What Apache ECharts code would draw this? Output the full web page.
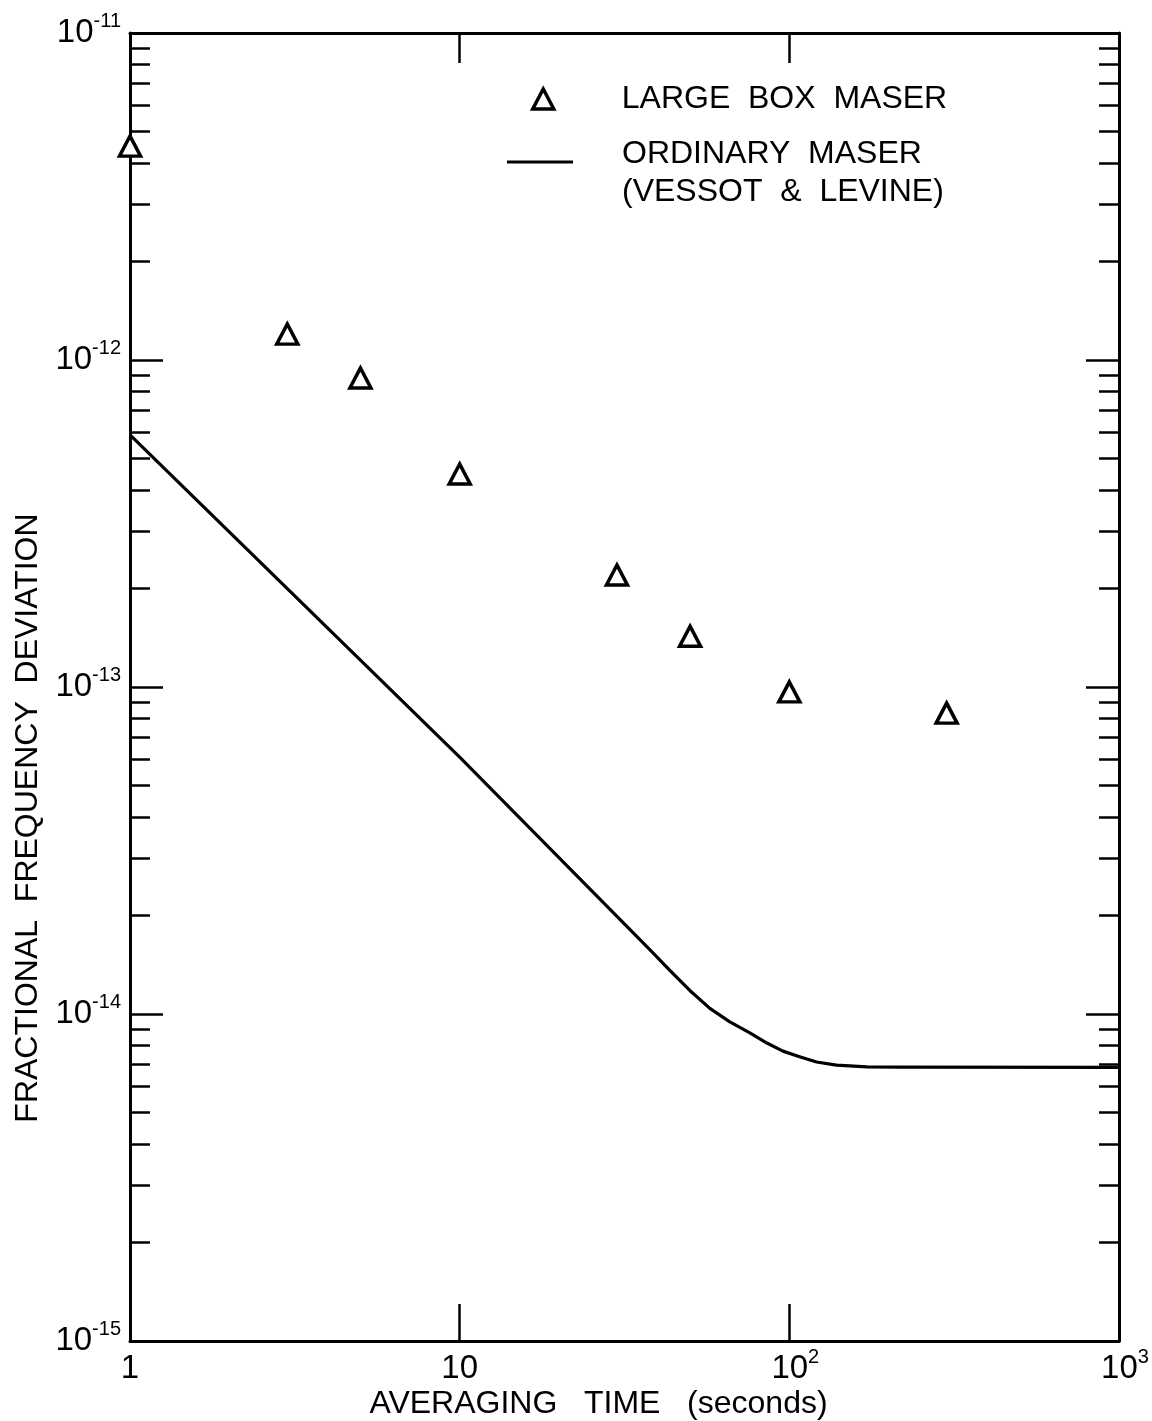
<!DOCTYPE html>
<html>
<head>
<meta charset="utf-8">
<script src="https://cdn.jsdelivr.net/npm/echarts@6/dist/echarts.min.js"></script>
<style>
  html, body { margin: 0; padding: 0; background: #fff; }
  #chart { width: 1152px; height: 1421px; }
</style>
</head>
<body>
<div id="chart"></div>
<script>
// ---- data ----
const boxTau = [1, 3, 5, 10, 30, 50, 100, 300];
const boxSigma = [4.51e-12, 1.20e-12, 8.81e-13, 4.48e-13, 2.20e-13, 1.43e-13, 9.66e-14, 8.32e-14];

const ordTau = [1, 10, 37.8, 43.4, 49.9, 57.4, 66, 75.9, 85.5, 95.6, 108, 121, 139, 172, 216, 1000];
const ordSigma = [5.9e-13, 6.1e-14, 1.57e-14, 1.36e-14, 1.18e-14, 1.04e-14, 9.46e-15, 8.75e-15,
                  8.15e-15, 7.70e-15, 7.39e-15, 7.13e-15, 6.98e-15, 6.89e-15, 6.88e-15, 6.87e-15];

const xTickValues = [1, 10, 100, 1000];
const yTickValues = [1e-15, 1e-14, 1e-13, 1e-12, 1e-11];

const boxName = 'LARGE  BOX  MASER';
const ordName = 'ORDINARY  MASER  (VESSOT  &  LEVINE)';
const xName = 'AVERAGING   TIME   (seconds)';
const yName = 'FRACTIONAL  FREQUENCY  DEVIATION';

// ---- chart ----
const FONT = 'Liberation Sans';
const chart = echarts.init(document.getElementById('chart'), null, { renderer: 'canvas' });

function expOf(v) { return Math.round(Math.log10(v)); }

const axisLine = { show: true, lineStyle: { color: '#000', width: 3 } };

function yAxisDef(position, withLabels) {
  return {
    type: 'log', logBase: 10, position: position,
    min: yTickValues[0], max: yTickValues[yTickValues.length - 1],
    splitNumber: 4,
    axisLine: axisLine,
    axisTick: { show: true, inside: true, length: 33, lineStyle: { color: '#000', width: 2.5 } },
    minorTick: { show: true, splitNumber: 9, length: 20, lineStyle: { color: '#000', width: 2.5 } },
    splitLine: { show: false },
    minorSplitLine: { show: false },
    axisLabel: withLabels ? {
      show: true, margin: 9, color: '#000',
      formatter: function (v) { return '{b|10}{s|' + expOf(v) + '}'; },
      rich: {
        b: { fontFamily: FONT, fontSize: 33, color: '#000' },
        s: { fontFamily: FONT, fontSize: 20, color: '#000', padding: [0, 0, 24, 0] }
      }
    } : { show: false },
    name: withLabels ? yName : '',
    nameLocation: 'middle', nameGap: 86, nameRotate: 90, nameMoveOverlap: false,
    nameTextStyle: { fontFamily: FONT, fontSize: 32, color: '#000', padding: [0, 262, 0, 0] }
  };
}

function xAxisDef(position, withLabels) {
  return {
    type: 'log', logBase: 10, position: position,
    min: xTickValues[0], max: xTickValues[xTickValues.length - 1],
    splitNumber: 3,
    axisLine: axisLine,
    axisTick: { show: true, inside: true, length: position === 'bottom' ? 37 : 30,
                lineStyle: { color: '#000', width: 2.5 } },
    splitLine: { show: false },
    axisLabel: withLabels ? {
      show: true, margin: 6, color: '#000',
      formatter: function (v) {
        const e = expOf(v);
        if (e === 0) return '{b|1}';
        if (e === 1) return '{b|10}';
        return '{p|10}{s|' + e + '}';
      },
      rich: {
        b: { fontFamily: FONT, fontSize: 33, lineHeight: 44, color: '#000' },
        p: { fontFamily: FONT, fontSize: 33, lineHeight: 44, color: '#000', padding: [0, 0, 0, 12] },
        s: { fontFamily: FONT, fontSize: 20, lineHeight: 20, color: '#000', padding: [0, 0, 24, 0] }
      }
    } : { show: false },
    name: withLabels ? xName : '',
    nameLocation: 'middle', nameGap: 47, nameMoveOverlap: false,
    nameTextStyle: { fontFamily: FONT, fontSize: 32, color: '#000', padding: [0, 52, 0, 0] }
  };
}

const option = {
  backgroundColor: '#fff',
  animation: false,
  grid: { left: 130, right: 33, top: 33, bottom: 80, containLabel: false, outerBoundsMode: 'none' },
  xAxis: [xAxisDef('bottom', true), xAxisDef('top', false)],
  yAxis: [yAxisDef('left', true), yAxisDef('right', false)],
  legend: [
    {
      data: [boxName], orient: 'vertical', left: 531, top: 80, padding: 0,
      icon: 'triangle', itemWidth: 21, itemHeight: 20,
      itemStyle: { color: '#fff', borderColor: '#000', borderWidth: 3.5, opacity: 1 },
      textStyle: { fontFamily: FONT, fontSize: 32, color: '#000', lineHeight: 38, padding: [0, 0, 0, 63] }
    },
    {
      data: [ordName], orient: 'vertical', left: 507, top: 135, padding: 0,
      icon: 'path://M0,0H66V3H0Z M0,24.9H0.05V25H0Z', itemWidth: 66, itemHeight: 25,
      itemStyle: { color: '#000', borderWidth: 0 },
      formatter: function (n) { return n.replace('  (', '\n('); },
      textStyle: { fontFamily: FONT, fontSize: 32, color: '#000', lineHeight: 38, padding: [0, 0, 0, 44] }
    }
  ],
  series: [
    {
      name: ordName, type: 'line', xAxisIndex: 0, yAxisIndex: 0,
      data: ordTau.map((t, i) => [t, ordSigma[i]]),
      showSymbol: false, symbol: 'none', smooth: false,
      lineStyle: { color: '#000', width: 3.2, join: 'round' },
      itemStyle: { color: '#000' },
      z: 3
    },
    {
      name: boxName, type: 'scatter', xAxisIndex: 0, yAxisIndex: 0,
      data: boxTau.map((t, i) => [t, boxSigma[i]]),
      symbol: 'triangle', symbolSize: [21, 20], clip: false,
      itemStyle: { color: '#fff', borderColor: '#000', borderWidth: 3.5, opacity: 1 },
      z: 4
    }
  ]
};
chart.setOption(option);
</script>
</body>
</html>
